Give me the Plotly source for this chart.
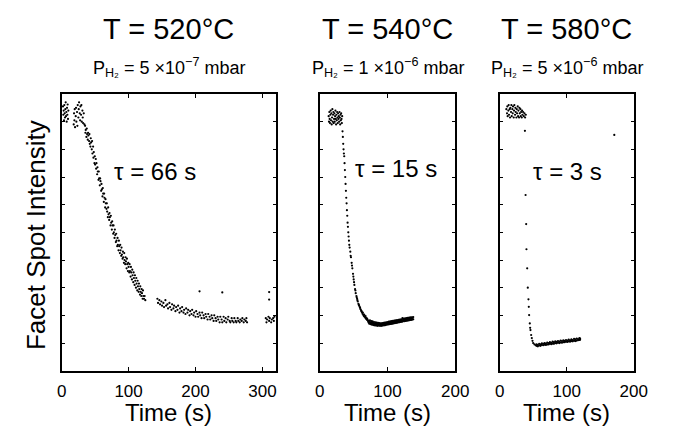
import plotly.graph_objects as go

# ---------------- data ----------------
panel_titles = ["T = 520°C", "T = 540°C", "T = 580°C"]
pressure_labels = ["P<sub>H₂</sub> = 5 ×10<sup>−7</sup> mbar",
                   "P<sub>H₂</sub> = 1 ×10<sup>−6</sup> mbar",
                   "P<sub>H₂</sub> = 5 ×10<sup>−6</sup> mbar"]
tau_labels = ["τ = 66 s", "τ = 15 s", "τ = 3 s"]
x_ranges = [[0, 320], [0, 200], [0, 200]]
x_tickvals = [[0, 100, 200, 300], [0, 100, 200], [0, 100, 200]]

t1 = [2, 2.5, 3, 3.5, 4, 4.5, 5, 5.5, 6, 6.5, 7, 7.5, 8, 8.5, 9, 9.5, 10,
      18, 18.5, 19, 19.5, 20, 21, 21.5, 22, 23, 23.5, 24, 25, 25.5, 26, 27, 27.5, 28, 29, 29.5, 30, 31, 31.5, 32, 33, 34,
      35, 35.5, 36, 37, 37.5, 38, 39, 39.5, 40, 41, 41.5, 42, 43, 43.5, 44, 45, 45.5, 46, 47, 47.5, 48, 49, 49.5, 50,
      51, 51.5, 52, 53, 53.5, 54, 55, 55.5, 56, 57, 57.5, 58, 59, 59.5, 60, 61, 61.5, 62, 63, 63.5, 64, 65, 65.5, 66,
      67, 67.5, 68, 69, 69.5, 70, 71, 71.5, 72, 73, 73.5, 74, 75, 75.5, 76, 77, 77.5, 78, 79, 79.5, 80, 81, 81.5, 82,
      83, 83.5, 84, 85, 85.5, 86, 87, 87.5, 88, 89, 89.5, 90, 91, 91.5, 92, 93, 93.5, 94, 95, 95.5, 96, 97, 97.5, 98,
      99, 99.5, 100, 101, 101.5, 102, 103, 103.5, 104, 105, 105.5, 106, 107, 107.5, 108, 109, 109.5, 110, 111, 111.5,
      112, 113, 113.5, 114, 115, 115.5, 116, 117, 117.5, 118, 119, 119.5, 120, 121, 121.5, 122, 123, 124, 125,
      143, 144, 146, 147, 149, 150, 152, 153, 155, 156, 158, 159, 161, 162, 164, 165, 167, 168, 170, 171, 173, 174,
      176, 177, 179, 180, 182, 183, 185, 186, 188, 189, 191, 192, 194, 195, 197, 198, 200, 201, 203, 204, 206, 207,
      209, 210, 212, 213, 215, 216, 218, 219, 221, 222, 224, 225, 227, 228, 230, 231, 233, 234, 236, 237, 239, 240,
      242, 243, 245, 246, 248, 249, 251, 252, 254, 255, 257, 258, 260, 261, 263, 264, 266, 267, 269, 270, 272, 273,
      275, 276, 277,
      305, 306, 307, 309, 310, 311, 313, 314, 316, 317, 318,
      206, 240, 310, 310]
y1 = [9.55, 9.25, 9.4, 9.05, 9.6, 9.3, 9.15, 9.45, 9.7, 9.2, 9.35, 9.0, 9.5, 9.25, 9.62, 9.1, 9.4,
      8.9, 9.3, 9.05, 9.45, 8.8, 9.2, 9.5, 9.0, 9.35, 8.85, 9.6, 9.15, 9.45, 9.7, 9.3, 9.05, 9.55, 9.25, 9.6, 9.0, 9.4, 9.15, 8.95, 9.3, 8.9,
      8.85, 8.6, 8.7, 8.45, 8.75, 8.55, 8.35, 8.6, 8.5, 8.3, 8.55, 8.2, 8.1, 8.4, 8.25, 8.0, 8.3, 7.85, 8.1, 7.7, 7.9, 7.5, 7.75, 7.45,
      7.65, 7.3, 7.5, 7.1, 7.35, 7.2, 6.9, 7.2, 6.95, 6.7, 6.95, 6.85, 6.5, 6.75, 6.55, 6.3, 6.6, 6.4, 6.1, 6.4, 6.25, 5.9, 6.2, 6.05,
      5.85, 6.05, 5.75, 5.55, 5.9, 5.65, 5.45, 5.7, 5.55, 5.25, 5.6, 5.35, 5.1, 5.4, 5.25, 4.95, 5.25, 5.0, 4.8, 5.1, 4.9, 4.65, 4.95, 4.7,
      4.5, 4.8, 4.55, 4.35, 4.7, 4.5, 4.25, 4.55, 4.35, 4.15, 4.45, 4.2, 4.05, 4.3, 4.1, 3.9, 4.25, 4.0, 3.85, 4.1, 3.95, 3.7, 4.05, 3.85,
      3.6, 3.9, 3.75, 3.55, 3.85, 3.6, 3.4, 3.75, 3.55, 3.3, 3.65, 3.45, 3.2, 3.55, 3.35, 3.1, 3.45, 3.25, 3.0, 3.35,
      3.15, 2.9, 3.25, 3.05, 2.85, 3.15, 2.95, 2.75, 3.05, 2.85, 2.7, 2.95, 2.8, 2.6, 2.9, 2.7, 2.6, 2.7, 2.55,
      2.6, 2.45, 2.55, 2.4, 2.5, 2.35, 2.45, 2.3, 2.55, 2.35, 2.4, 2.25, 2.45, 2.3, 2.2, 2.4, 2.25, 2.35, 2.15, 2.3, 2.2, 2.35,
      2.1, 2.25, 2.15, 2.3, 2.1, 2.2, 2.05, 2.25, 2.1, 2.2, 2.0, 2.15, 2.05, 2.2, 2.0, 2.1, 1.95, 2.15, 2.05, 1.95, 2.1, 2.0,
      1.9, 2.1, 2.0, 1.9, 2.05, 1.95, 1.85, 2.05, 1.95, 1.85, 2.0, 1.9, 1.8, 2.0, 1.9, 1.8, 1.95, 1.85, 1.75, 1.95, 1.85, 1.75,
      1.95, 1.8, 1.9, 1.75, 1.85, 1.95, 1.8, 1.75, 1.9, 1.8, 1.75, 1.9, 1.8, 1.75, 1.9, 1.8, 1.75, 1.85, 1.8, 1.9, 1.75, 1.85,
      1.8, 1.9, 1.75,
      1.9, 1.75, 1.85, 1.95, 1.8, 1.9, 1.75, 1.85, 1.9, 1.8, 1.95,
      2.87, 2.83, 2.84, 2.57]

t2 = [13, 13.5, 14, 14.5, 15, 15.5, 16, 16.5, 17, 17.5, 18, 18.5, 19, 19.5, 20, 20.5, 21, 21.5, 22, 22.5, 23, 23.5,
      24, 24.5, 25, 25.5, 26, 26.5, 27, 27.5, 28, 28.5, 29, 29.5, 30, 30.5, 31, 31.5, 32, 32.5, 33,
      33.5, 34, 34.5, 35, 35.5, 36, 36.5, 37, 37.5, 38, 38.5, 39, 39.5, 40, 40.5, 41, 41.5, 42, 42.5, 43, 43.5, 44,
      45, 45.5, 46, 47, 47.5, 48, 49, 49.5, 50, 50.5, 51, 52, 52.5, 53, 54, 54.5, 55, 55.5, 56, 57, 57.5, 58, 59, 59.5,
      60, 61, 61.5, 62, 63, 63.5, 64, 65, 65.5, 66, 67, 67.5, 68, 69, 69.5, 70, 71, 71.5,
      72, 72, 73, 73, 74, 74, 75, 75, 76, 76, 77, 77, 78, 78, 79, 79, 80, 80, 81, 81, 82, 82, 83, 83, 84, 84,
      85, 85, 86, 86, 87, 87, 88, 88, 89, 89, 90, 90, 91, 91, 92, 92, 93, 93, 94, 94, 95, 95, 96, 96, 97, 97,
      98, 98, 99, 99, 100, 100, 101, 101, 102, 102, 103, 103, 104, 104, 105, 105, 106, 106, 107, 107, 108, 108,
      109, 109, 110, 110, 111, 111, 112, 112, 113, 113, 114, 114, 115, 115, 116, 116, 117, 117, 118, 118, 119, 119,
      120, 120, 121, 121, 122, 122, 123, 123, 124, 124, 125, 125, 126, 126, 127, 127, 128, 128, 129, 129, 130, 130,
      131, 131, 132, 132, 133, 133, 134, 134, 135, 135, 136, 136, 137, 137, 138, 138]
y2 = [9.2, 9.0, 9.35, 9.1, 8.95, 9.25, 9.4, 9.05, 9.3, 8.9, 9.15, 9.45, 9.0, 9.25, 9.35, 8.95, 9.1, 9.3, 9.0, 9.2, 9.4, 9.1,
      8.9, 9.25, 9.05, 9.35, 9.15, 8.95, 9.3, 9.1, 9.2, 9.0, 9.35, 9.15, 8.9, 9.25, 9.05, 9.3, 9.1, 8.95, 9.2,
      8.65, 8.45, 8.2, 8.0, 7.85, 7.75, 7.5, 7.25, 7.0, 6.75, 6.5, 6.25, 6.05, 5.8, 5.6, 5.35, 5.2, 5.0, 4.85, 4.7, 4.55, 4.45,
      4.3, 4.15, 4.1, 3.9, 3.8, 3.7, 3.5, 3.4, 3.3, 3.2, 3.1, 2.95, 2.9, 2.8, 2.7, 2.65, 2.6, 2.55, 2.5, 2.42, 2.38, 2.35, 2.3, 2.27,
      2.22, 2.18, 2.15, 2.12, 2.06, 2.1, 2.02, 1.98, 2.03, 1.95, 1.92, 1.97, 1.88, 1.9, 1.84, 1.87, 1.82, 1.78,
      1.8, 1.74, 1.77, 1.7, 1.82, 1.72, 1.75, 1.68, 1.79, 1.71, 1.73, 1.66, 1.78, 1.69, 1.72, 1.65, 1.76, 1.68, 1.7, 1.64, 1.75, 1.67, 1.71, 1.63, 1.74, 1.66,
      1.69, 1.62, 1.73, 1.65, 1.68, 1.63, 1.72, 1.64, 1.67, 1.62, 1.71, 1.65, 1.68, 1.62, 1.72, 1.66, 1.69, 1.63, 1.73, 1.66, 1.7, 1.64, 1.74, 1.67, 1.71, 1.65,
      1.75, 1.68, 1.72, 1.66, 1.76, 1.69, 1.73, 1.67, 1.77, 1.7, 1.74, 1.68, 1.78, 1.7, 1.75, 1.69, 1.79, 1.71, 1.76, 1.7, 1.8, 1.72,
      1.77, 1.71, 1.81, 1.73, 1.78, 1.72, 1.82, 1.74, 1.79, 1.73, 1.83, 1.75, 1.8, 1.74, 1.84, 1.76, 1.81, 1.75, 1.85, 1.77, 1.82, 1.76,
      1.86, 1.78, 1.83, 1.77, 1.9, 1.78, 1.84, 1.79, 1.88, 1.8, 1.85, 1.79, 1.89, 1.81, 1.86, 1.8, 1.9, 1.82, 1.87, 1.81, 1.91, 1.82,
      1.88, 1.82, 1.92, 1.83, 1.89, 1.83, 1.93, 1.84, 1.9, 1.84, 1.93, 1.85, 1.91, 1.85, 1.94, 1.86]

t3 = [10, 11, 11.5, 12, 13, 13.5, 14, 15, 15.5, 16, 17, 17.5, 18, 19, 19.5, 20, 21, 21.5, 22, 23, 23.5, 24, 25, 25.5,
      26, 27, 27.5, 28, 29, 29.5, 30, 31, 31.5, 32, 33, 33.5, 34, 35, 36, 37, 38, 39,
      37.7, 38.7, 39.6, 40, 41.1, 42, 43, 43.5, 44, 45, 45.5, 46, 47, 48, 49, 50, 52, 54,
      55, 55, 57, 57, 59, 59, 61, 61, 63, 63, 65, 65, 67, 67, 69, 69, 71, 71, 73, 73, 75, 75, 77, 77, 79, 79,
      81, 81, 83, 83, 85, 85, 87, 87, 89, 89, 91, 91, 93, 93, 95, 95, 97, 97, 99, 99, 101, 101, 103, 103,
      105, 105, 107, 107, 109, 109, 111, 111, 113, 113, 115, 115, 117, 117, 119, 119, 120, 120,
      171]
y3 = [9.45, 9.3, 9.55, 9.2, 9.4, 9.6, 9.25, 9.45, 9.15, 9.5, 9.35, 9.6, 9.2, 9.45, 9.3, 9.55, 9.15, 9.4, 9.6, 9.25, 9.5, 9.35, 9.15, 9.45,
      9.3, 9.55, 9.2, 9.4, 9.15, 9.5, 9.3, 9.45, 9.2, 9.35, 9.15, 9.4, 9.25, 9.35, 9.2, 9.3, 9.15, 9.25,
      8.67, 6.35, 5.30, 4.39, 3.70, 3.0, 2.58, 2.31, 2.01, 1.71, 1.55, 1.47, 1.29, 1.18, 1.08, 1.0, 0.95, 0.92,
      0.95, 0.9, 0.93, 0.88, 0.97, 0.91, 0.95, 0.9, 0.99, 0.93, 0.97, 0.92, 1.0, 0.94, 0.98, 0.93, 1.02, 0.95, 1.0, 0.95, 1.03, 0.97, 1.01, 0.96, 1.05, 0.98,
      1.03, 0.97, 1.06, 1.0, 1.04, 0.99, 1.07, 1.01, 1.05, 1.0, 1.09, 1.02, 1.07, 1.01, 1.1, 1.03, 1.08, 1.03, 1.11, 1.05, 1.09, 1.04, 1.12, 1.06,
      1.1, 1.05, 1.13, 1.07, 1.11, 1.06, 1.15, 1.08, 1.13, 1.07, 1.16, 1.09, 1.14, 1.1, 1.18, 1.11, 1.16, 1.12,
      8.52]

series_t = [t1, t2, t3]
series_y = [y1, y2, y3]

# ---------------- layout geometry ----------------
W, H = 673, 435
x_domains_px = [(58.3, 278.7), (324.0, 463.3), (509.0, 647.0)]
y_top_px, y_bot_px = 94.0, 370.7
FONT = "Liberation Sans, Arial, Helvetica, sans-serif"

def px(x):
    return x / W

def py(y):
    return 1 - y / H

fig = go.Figure()
annotations = []
for i in range(3):
    xa = "x" if i == 0 else f"x{i+1}"
    ya = "y" if i == 0 else f"y{i+1}"
    fig.add_trace(go.Scatter(
        x=series_t[i], y=series_y[i], mode="markers",
        marker=dict(color="black", size=2.2, symbol="circle"),
        xaxis=xa, yaxis=ya, showlegend=False, hoverinfo="skip"))
    xkey = "xaxis" if i == 0 else f"xaxis{i+1}"
    ykey = "yaxis" if i == 0 else f"yaxis{i+1}"
    d0, d1 = x_domains_px[i]
    fig.update_layout(**{
        xkey: dict(domain=[px(d0), px(d1)], range=x_ranges[i], tickvals=x_tickvals[i],
                   ticks="inside", ticklen=4, tickwidth=1.2, tickcolor="black",
                   showline=True, linecolor="black", linewidth=1.6, mirror="ticks",
                   showgrid=False, zeroline=False, anchor=ya, ticklabelstandoff=4,
                   tickfont=dict(family=FONT, size=17, color="black")),
        ykey: dict(domain=[py(y_bot_px), py(y_top_px)], range=[0, 10], dtick=1,
                   showticklabels=False, ticks="inside", ticklen=3, tickwidth=1, tickcolor="black",
                   showline=True, linecolor="black", linewidth=1.8, mirror="ticks",
                   showgrid=False, zeroline=False, anchor=xa),
    })
    cx = (d0 + d1) / 2
    annotations.append(dict(text=panel_titles[i], x=px(cx), y=py(29), xref="paper", yref="paper",
                            showarrow=False, xanchor="center", yanchor="middle",
                            font=dict(family=FONT, size=29, color="black")))
    annotations.append(dict(text=pressure_labels[i], x=px(cx), y=py(68), xref="paper", yref="paper",
                            showarrow=False, xanchor="center", yanchor="middle",
                            font=dict(family=FONT, size=18, color="black")))
    annotations.append(dict(text="Time (s)", x=px(cx), y=py(412), xref="paper", yref="paper",
                            showarrow=False, xanchor="center", yanchor="middle",
                            font=dict(family=FONT, size=24, color="black")))

tau_pos_px = [(154, 171), (402, 168), (579, 171)]
for i in range(3):
    annotations.append(dict(text=tau_labels[i], x=px(tau_pos_px[i][0]), y=py(tau_pos_px[i][1]),
                            xref="paper", yref="paper", showarrow=False,
                            xanchor="center", yanchor="middle",
                            font=dict(family=FONT, size=24, color="black")))

annotations.append(dict(text="Facet Spot Intensity", x=px(32), y=py(235), xref="paper", yref="paper",
                        showarrow=False, textangle=-90, xanchor="center", yanchor="middle",
                        font=dict(family=FONT, size=26, color="black")))

fig.update_layout(width=W, height=H, margin=dict(l=0, r=0, t=0, b=0),
                  paper_bgcolor="white", plot_bgcolor="white",
                  annotations=annotations, font=dict(family=FONT))

fig.write_html("out.html", config={"displayModeBar": False},
               post_script="document.body.style.margin='0';document.body.style.overflow='hidden';")
